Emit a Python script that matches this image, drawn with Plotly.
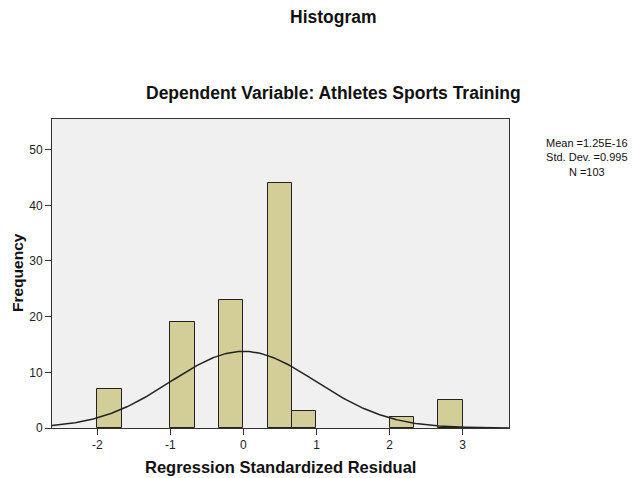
import numpy as np
import plotly.graph_objects as go

# Data
bin_starts = [-2.0, -1.0, -1/3, 1/3, 2/3, 2.0, 8/3]
counts = [7, 19, 23, 44, 3, 2, 5]
bin_width = 1/3
mean_val = 1.25e-16
sd_val = 0.995
n_val = 103
x_ticks = [-2, -1, 0, 1, 2, 3]
y_ticks = [0, 10, 20, 30, 40, 50]
stats_lines = ["Mean =1.25E-16", "Std. Dev. =0.995", "N =103"]

FONT = "Arial, 'Liberation Sans', sans-serif"

W, H = 635, 478
L, R, T, B = 52, 126, 119, 50
PW, PH = W - L - R, H - T - B

def px_x(p):
    return (p - L) / PW

def px_y(p):
    return (H - B - p) / PH

centers = [s + bin_width / 2 for s in bin_starts]

xr = [-2.62, 3.635]
xs = np.linspace(xr[0], xr[1], 300)
ys = n_val * bin_width * np.exp(-0.5 * ((xs - mean_val) / sd_val) ** 2) / (sd_val * np.sqrt(2 * np.pi))

fig = go.Figure()
fig.add_trace(go.Bar(
    x=centers, y=counts, width=bin_width,
    marker=dict(color="#D3CE97", line=dict(color="#222222", width=1)),
    hoverinfo="skip",
))
fig.add_trace(go.Scatter(
    x=xs, y=ys, mode="lines",
    line=dict(color="#222222", width=1.5),
    hoverinfo="skip",
))

fig.update_layout(
    width=W, height=H,
    margin=dict(l=L, r=R, t=T, b=B, autoexpand=False),
    paper_bgcolor="white",
    plot_bgcolor="#F0F0F0",
    showlegend=False,
    font=dict(family=FONT, size=12, color="#222222"),
    bargap=0,
)
fig.update_xaxes(
    range=xr, tickvals=x_ticks, ticktext=[str(v) for v in x_ticks],
    showgrid=False, zeroline=False, automargin=False,
    showline=True, linecolor="#333333", linewidth=1, mirror=True,
    ticks="outside", ticklen=6, tickcolor="#333333",
    tickfont=dict(size=12, family=FONT, color="#222222"),
)
fig.update_yaxes(
    range=[0, 55.5], tickvals=y_ticks,
    showgrid=False, zeroline=False, automargin=False,
    showline=True, linecolor="#333333", linewidth=1, mirror=True,
    ticks="outside", ticklen=6, tickcolor="#333333",
    tickfont=dict(size=12, family=FONT, color="#222222"),
)

def text_at(txt, x, y, size, bold=False, angle=0):
    fig.add_annotation(text=f"<b>{txt}</b>" if bold else txt,
                       xref="paper", yref="paper", x=px_x(x), y=px_y(y),
                       showarrow=False, textangle=angle, align="center",
                       font=dict(size=size, family=FONT, color="#111111"),
                       xanchor="center", yanchor="middle")

text_at("Histogram", 333, 17, 17.5, bold=True)
text_at("Dependent Variable: Athletes Sports Training", 333, 93, 17.5, bold=True)
text_at("Regression Standardized Residual", 280, 467, 16.5, bold=True)
text_at("Frequency", 17, 273, 15.5, bold=True, angle=-90)
text_at("<br>".join(stats_lines), 587, 157, 11)

fig.write_html("out.html", config={"displayModeBar": False},
               post_script="document.body.style.margin='0';document.body.style.overflow='hidden';")
